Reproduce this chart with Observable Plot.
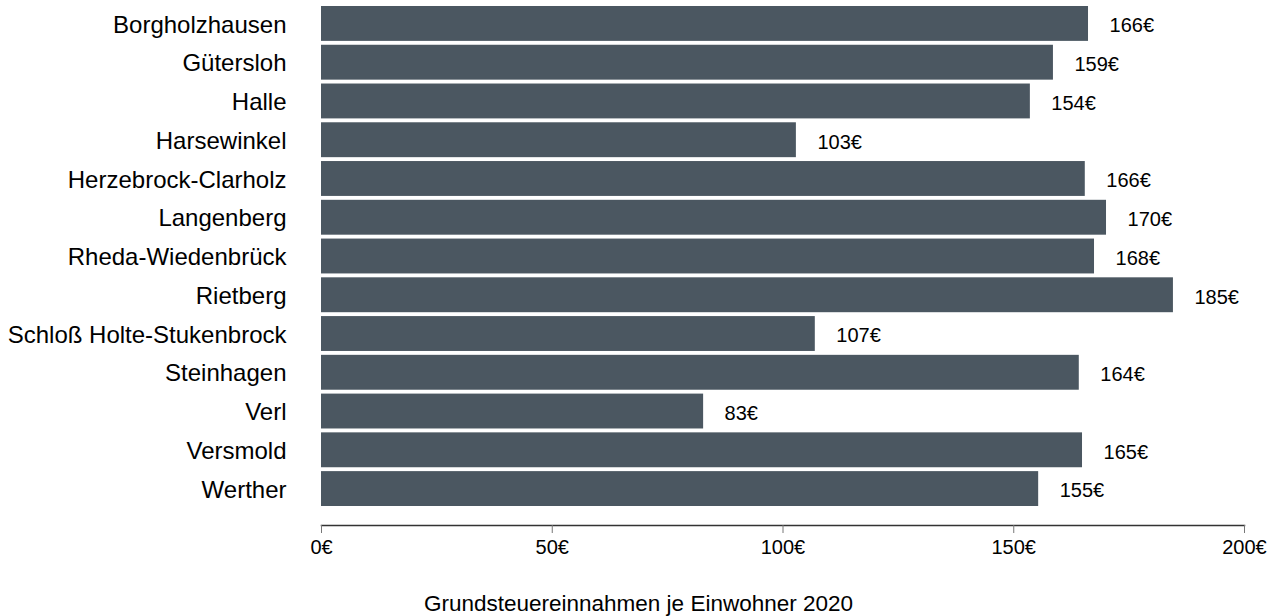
<!DOCTYPE html>
<html>
<head>
<meta charset="utf-8">
<script src="https://cdn.jsdelivr.net/npm/d3@7"></script>
<script src="https://cdn.jsdelivr.net/npm/@observablehq/plot@0.6"></script>
<style>
  body { margin: 0; background: #fff; font-family: "Liberation Sans", Arial, sans-serif; }
  #title { width: 1277px; text-align: center; font-size: 22.5px; line-height: 28px; color: #000; }
</style>
</head>
<body>
<div id="chart"></div>
<div id="title">Grundsteuereinnahmen je Einwohner 2020</div>
<script>
const municipalities = ["Borgholzhausen","Gütersloh","Halle","Harsewinkel","Herzebrock-Clarholz","Langenberg","Rheda-Wiedenbrück","Rietberg","Schloß Holte-Stukenbrock","Steinhagen","Verl","Versmold","Werther"];
const values = [166.2, 158.6, 153.6, 102.9, 165.5, 170.1, 167.5, 184.6, 107.0, 164.2, 82.8, 164.9, 155.4];
const xTicks = [0, 50, 100, 150, 200];

const data = municipalities.map((m, i) => ({name: m, value: values[i]}));

const chart = Plot.plot({
  width: 1277,
  height: 590,
  marginLeft: 321,
  marginRight: 33,
  marginTop: 6,
  marginBottom: 65,
  style: {fontFamily: "'Liberation Sans', Arial, sans-serif", background: "#fff", color: "#000"},
  x: {domain: [0, 200], ticks: xTicks, tickFormat: d => d + "€", label: null},
  y: {domain: municipalities, paddingInner: 0.1, paddingOuter: 0, insetBottom: 19, round: false, label: null},
  marks: [
    Plot.barX(data, {x: "value", y: "name", fill: "#4b5761"}),
    Plot.text(data, {x: "value", y: "name", text: d => Math.round(d.value) + "€", textAnchor: "start", dx: 21, dy: 2, fontSize: 20, fill: "#000"}),
    Plot.frame({anchor: "bottom", stroke: "#333", strokeWidth: 1.5}),
    Plot.axisX({ticks: xTicks, tickFormat: d => d + "€", tickSize: 8, tickPadding: 6, fontSize: 20, stroke: "#777", label: null}),
    Plot.axisY({tickSize: 0, tickPadding: 35, dy: 1, fontSize: 24, label: null})
  ]
});
document.getElementById("chart").appendChild(chart);
</script>
</body>
</html>
